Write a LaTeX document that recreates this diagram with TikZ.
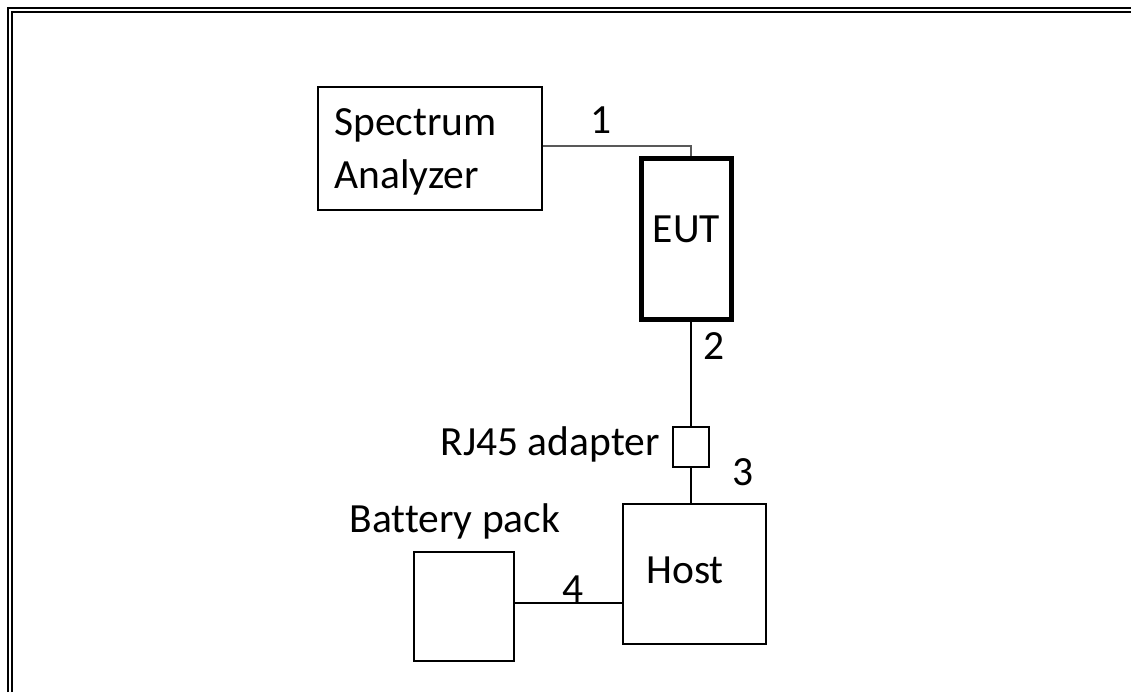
\documentclass[tikz,border=0pt]{standalone}
\usepackage{fontspec}
\setmainfont{Carlito}[Ligatures=NoCommon]
\usetikzlibrary{positioning, calc}

\begin{document}
\begin{tikzpicture}[
    x=0.5pt, y=-0.5pt,
    device/.style={draw=black, line width=1pt, rectangle, inner sep=0pt},
    eutbox/.style={draw=black, line width=2.5pt, rectangle, inner sep=0pt, minimum width=45pt, minimum height=80.5pt},
    cable/.style={line width=1pt},
    rfcable/.style={line width=1.25pt, draw=black!65},
    txt/.style={inner sep=0pt, font=\fontsize{20.75pt}{26.5pt}\selectfont},
    numlabel/.style={inner sep=0pt, font=\fontsize{20.75pt}{26.5pt}\selectfont}
]
\useasboundingbox (0,0) rectangle (1131,692);

% Rahmen
\draw[line width=1.25pt] (8,692) -- (8,8) -- (1131,8);
\draw[line width=1pt] (11.5,692) -- (11.5,11.5) -- (1131,11.5);

% Geraete
\node[device, minimum width=112pt, minimum height=61.5pt] (SA) at (430,148.5) {};
\node[eutbox] (EUT) at (686.5,239) {};
\node[device, minimum width=18pt, minimum height=20pt, below=52pt of EUT, xshift=2.25pt] (RJ45) {};
\node[device, minimum width=71.5pt, minimum height=70pt, below=17.5pt of RJ45, xshift=1.75pt] (Host) {};
\node[device, minimum width=50pt, minimum height=54.5pt, left=53.5pt of Host, yshift=-16.25pt] (Battery) {};

% Beschriftungen
\node[txt, align=left, anchor=base west] (SAtxt) at ([xshift=8.5pt, yshift=-51pt]SA.north west) {Spectrum\\Analyzer};
\node[txt] (EUTtxt) at ([yshift=4.75pt]EUT.center) {EUT};
\node[txt] (Hosttxt) at ([xshift=-4.75pt, yshift=1.75pt]Host.center) {Host};
\node[txt, anchor=base east] (RJ45txt) at ([xshift=-6pt, yshift=-4pt]RJ45.west) {RJ45 adapter};
\node[txt, anchor=base] (Batterytxt) at ([xshift=-4.5pt, yshift=9.5pt]Battery.north) {Battery pack};

% Leitungen
\coordinate (SAport) at ([yshift=1.25pt]SA.east);
\coordinate (BPport) at ([yshift=1.75pt]Battery.east);
\draw[rfcable] (SAport) -| (RJ45.north |- EUT.north) node[pos=0.195, above=5.5pt, numlabel, text=black] {1};
\draw[cable] (EUT.south -| RJ45.north) -- (RJ45.north) node[pos=0.23, right=5.75pt, numlabel] {2};
\draw[cable] (RJ45.south) -- (RJ45.south |- Host.north) node[pos=0.13, right=20pt, numlabel] {3};
\draw[cable] (BPport) -- (BPport -| Host.west) node[pos=0.54, above=0pt, numlabel] {4};

\end{tikzpicture}
\end{document}
